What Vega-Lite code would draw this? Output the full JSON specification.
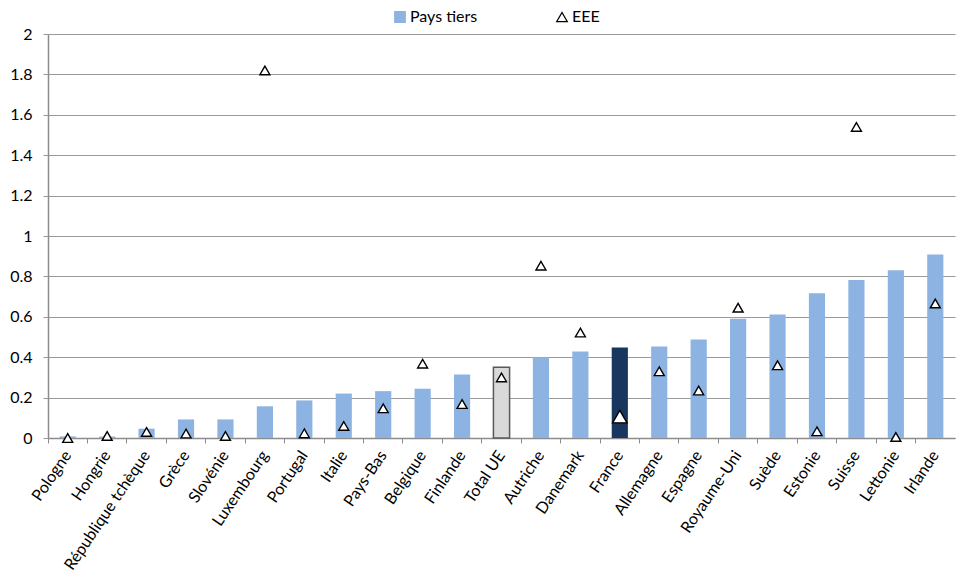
{
  "$schema": "https://vega.github.io/schema/vega-lite/v6.json",
  "width": 907,
  "height": 404,
  "autosize": {"type": "none"},
  "padding": {"left": 48, "top": 34, "right": 1, "bottom": 146},
  "background": "white",
  "config": {
    "font": "Lato",
    "view": {"stroke": null},
    "axis": {"labelFont": "Lato", "labelColor": "#000000", "labelFontSize": 16}
  },
  "data": {
    "values": [
      {"pays": "Pologne", "serie": "Pays tiers", "valeur": 0.008},
      {"pays": "Hongrie", "serie": "Pays tiers", "valeur": 0.008},
      {"pays": "République tchèque", "serie": "Pays tiers", "valeur": 0.046},
      {"pays": "Grèce", "serie": "Pays tiers", "valeur": 0.092},
      {"pays": "Slovénie", "serie": "Pays tiers", "valeur": 0.092},
      {"pays": "Luxembourg", "serie": "Pays tiers", "valeur": 0.157},
      {"pays": "Portugal", "serie": "Pays tiers", "valeur": 0.186},
      {"pays": "Italie", "serie": "Pays tiers", "valeur": 0.22},
      {"pays": "Pays-Bas", "serie": "Pays tiers", "valeur": 0.232},
      {"pays": "Belgique", "serie": "Pays tiers", "valeur": 0.244},
      {"pays": "Finlande", "serie": "Pays tiers", "valeur": 0.314},
      {"pays": "Total UE", "serie": "Pays tiers", "valeur": 0.35},
      {"pays": "Autriche", "serie": "Pays tiers", "valeur": 0.4},
      {"pays": "Danemark", "serie": "Pays tiers", "valeur": 0.428},
      {"pays": "France", "serie": "Pays tiers", "valeur": 0.448},
      {"pays": "Allemagne", "serie": "Pays tiers", "valeur": 0.453},
      {"pays": "Espagne", "serie": "Pays tiers", "valeur": 0.488},
      {"pays": "Royaume-Uni", "serie": "Pays tiers", "valeur": 0.59},
      {"pays": "Suède", "serie": "Pays tiers", "valeur": 0.611},
      {"pays": "Estonie", "serie": "Pays tiers", "valeur": 0.717},
      {"pays": "Suisse", "serie": "Pays tiers", "valeur": 0.782},
      {"pays": "Lettonie", "serie": "Pays tiers", "valeur": 0.831},
      {"pays": "Irlande", "serie": "Pays tiers", "valeur": 0.908},
      {"pays": "Pologne", "serie": "EEE", "valeur": 0.0},
      {"pays": "Hongrie", "serie": "EEE", "valeur": 0.01},
      {"pays": "République tchèque", "serie": "EEE", "valeur": 0.03},
      {"pays": "Grèce", "serie": "EEE", "valeur": 0.022},
      {"pays": "Slovénie", "serie": "EEE", "valeur": 0.01},
      {"pays": "Luxembourg", "serie": "EEE", "valeur": 1.82},
      {"pays": "Portugal", "serie": "EEE", "valeur": 0.023},
      {"pays": "Italie", "serie": "EEE", "valeur": 0.06},
      {"pays": "Pays-Bas", "serie": "EEE", "valeur": 0.147},
      {"pays": "Belgique", "serie": "EEE", "valeur": 0.368},
      {"pays": "Finlande", "serie": "EEE", "valeur": 0.168},
      {"pays": "Total UE", "serie": "EEE", "valeur": 0.3},
      {"pays": "Autriche", "serie": "EEE", "valeur": 0.853},
      {"pays": "Danemark", "serie": "EEE", "valeur": 0.522},
      {"pays": "France", "serie": "EEE", "valeur": 0.106},
      {"pays": "Allemagne", "serie": "EEE", "valeur": 0.33},
      {"pays": "Espagne", "serie": "EEE", "valeur": 0.235},
      {"pays": "Royaume-Uni", "serie": "EEE", "valeur": 0.645},
      {"pays": "Suède", "serie": "EEE", "valeur": 0.36},
      {"pays": "Estonie", "serie": "EEE", "valeur": 0.033},
      {"pays": "Suisse", "serie": "EEE", "valeur": 1.54},
      {"pays": "Lettonie", "serie": "EEE", "valeur": 0.005},
      {"pays": "Irlande", "serie": "EEE", "valeur": 0.666}
    ]
  },
  "encoding": {
    "x": {
      "field": "pays",
      "type": "nominal",
      "sort": null,
      "scale": {"paddingInner": 0, "paddingOuter": 0},
      "axis": {
        "title": null,
        "labelAngle": -56,
        "labelFontSize": 16,
        "labelPadding": 9,
        "bandPosition": 0,
        "tickSize": 5,
        "tickColor": "#8c8c8c",
        "domainColor": "#8c8c8c",
        "domainWidth": 1.5,
        "grid": false
      }
    },
    "y": {
      "field": "valeur",
      "type": "quantitative",
      "scale": {"domain": [0, 2], "nice": false, "zero": true},
      "axis": {
        "title": null,
        "values": [0, 0.2, 0.4, 0.6, 0.8, 1, 1.2, 1.4, 1.6, 1.8, 2],
        "format": "~g",
        "tickSize": 5,
        "labelPadding": 11,
        "tickColor": "#9a9a9a",
        "domainColor": "#8c8c8c",
        "domainWidth": 1.5,
        "grid": true,
        "gridColor": "#9a9a9a",
        "gridWidth": 1.2
      }
    }
  },
  "layer": [
    {
      "transform": [{"filter": "datum.serie === 'Pays tiers'"}],
      "mark": {"type": "bar", "width": {"band": 0.41}},
      "encoding": {
        "color": {
          "condition": [
            {"test": "datum.pays === 'France'", "value": "#17375e"},
            {"test": "datum.pays === 'Total UE'", "value": "#d9d9d9"}
          ],
          "value": "#8db3e2"
        },
        "stroke": {
          "condition": {"test": "datum.pays === 'Total UE'", "value": "#595959"},
          "value": null
        },
        "strokeWidth": {"value": 1.5}
      }
    },
    {
      "transform": [{"filter": "datum.serie === 'EEE'"}],
      "mark": {"type": "point", "filled": true, "strokeWidth": 1.4, "opacity": 1},
      "encoding": {
        "shape": {
          "field": "serie",
          "type": "nominal",
          "scale": {"domain": ["Pays tiers", "EEE"], "range": ["square", "triangle-up"]},
          "legend": {
            "title": null,
            "orient": "none",
            "legendX": 344,
            "legendY": -25,
            "direction": "horizontal",
            "columnPadding": 76,
            "labelFont": "Lato",
            "labelFontSize": 16,
            "labelColor": "#000000",
            "labelOffset": 2,
            "symbolSize": 110,
            "symbolStrokeWidth": 1.3,
            "symbolOpacity": 1
          }
        },
        "fill": {
          "field": "serie",
          "type": "nominal",
          "scale": {"domain": ["Pays tiers", "EEE"], "range": ["#8db3e2", "#ffffff"]},
          "legend": {
            "title": null,
            "orient": "none",
            "legendX": 344,
            "legendY": -25,
            "direction": "horizontal",
            "columnPadding": 76,
            "labelFont": "Lato",
            "labelFontSize": 16,
            "labelColor": "#000000",
            "labelOffset": 2,
            "symbolSize": 110,
            "symbolStrokeWidth": 1.3,
            "symbolOpacity": 1
          }
        },
        "stroke": {
          "field": "serie",
          "type": "nominal",
          "scale": {"domain": ["Pays tiers", "EEE"], "range": ["#8db3e2", "#000000"]},
          "legend": {
            "title": null,
            "orient": "none",
            "legendX": 344,
            "legendY": -25,
            "direction": "horizontal",
            "columnPadding": 76,
            "labelFont": "Lato",
            "labelFontSize": 16,
            "labelColor": "#000000",
            "labelOffset": 2,
            "symbolSize": 110,
            "symbolStrokeWidth": 1.3,
            "symbolOpacity": 1
          }
        },
        "size": {
          "condition": {"test": "datum.pays === 'France'", "value": 210},
          "value": 100
        }
      }
    }
  ]
}
